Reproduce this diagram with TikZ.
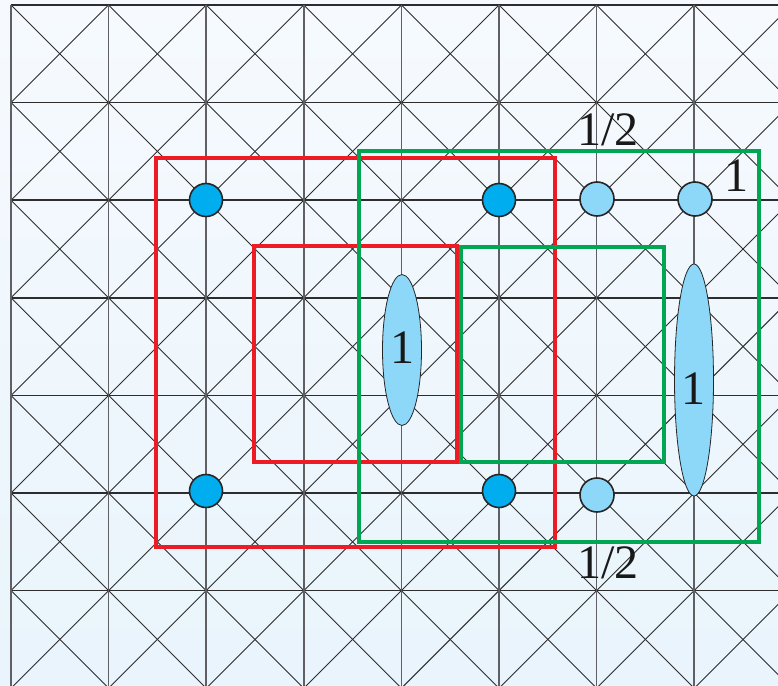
\documentclass[tikz,border=0pt]{standalone}
\usepackage{fontspec}
\setmainfont{Liberation Serif}
\definecolor{bgtop}{RGB}{246,250,254}
\definecolor{bgbot}{RGB}{233,244,252}
\definecolor{gridc}{RGB}{45,45,45}
\definecolor{vgrid}{RGB}{95,95,100}
\definecolor{redc}{RGB}{237,28,36}
\definecolor{greenc}{RGB}{0,166,81}
\definecolor{darkdot}{RGB}{0,174,239}
\definecolor{lightdot}{RGB}{141,216,248}
\tikzset{
  hline/.style={draw=gridc,line width=1.5pt},
  vline/.style={draw=vgrid,line width=1.7pt},
  diag/.style={draw=gridc,line width=0.9pt},
  redbox/.style={draw=redc,line width=4pt},
  greenbox/.style={draw=greenc,line width=4pt},
  dotdark/.style={circle,draw=black!85,line width=1.6pt,fill=darkdot,minimum size=33pt,inner sep=0pt},
  dotlight/.style={circle,draw=black!85,line width=1.6pt,fill=lightdot,minimum size=34pt,inner sep=0pt},
  lens/.style={ellipse,draw=black!85,line width=0.8pt,fill=lightdot,inner sep=0pt},
  lab/.style={font=\fontsize{48}{48}\selectfont,inner sep=0pt,text=black!90}
}
\usetikzlibrary{shapes.geometric}
\begin{document}
\begin{tikzpicture}[x=1pt,y=-1pt]
\useasboundingbox (0,0) rectangle (778,685);
\shade[top color=bgtop,bottom color=bgbot] (0,0) rectangle (778,685);
\begin{scope}
\clip (0,0) rectangle (778,685);
% diagonals
\foreach \i in {0,...,7}{
  \foreach \j in {0,...,6}{
    \pgfmathsetmacro{\xa}{11+97.6*\i}
    \pgfmathsetmacro{\xb}{11+97.6*(\i+1)}
    \pgfmathsetmacro{\ya}{5+97.6*\j}
    \pgfmathsetmacro{\yb}{5+97.6*(\j+1)}
    \draw[diag] (\xa,\ya) -- (\xb,\yb);
    \draw[diag] (\xa,\yb) -- (\xb,\ya);
  }
}
% horizontal lines
\foreach \j in {0,...,7}{
  \pgfmathsetmacro{\yy}{5+97.6*\j}
  \draw[hline] (11,\yy) -- (800,\yy);
}
% vertical lines
\foreach \i in {0,...,8}{
  \pgfmathsetmacro{\xx}{11+97.6*\i}
  \draw[vline] (\xx,5) -- (\xx,700);
}
\end{scope}
% lenses
\node[lens,minimum width=39pt,minimum height=151pt] (e1) at (402,350) {};
\node[lab] (e1t) at (402,348) {1};
\node[lens,minimum width=39pt,minimum height=232pt] (e2) at (694,380) {};
\node[lab] (e2t) at (693,389) {1};
% red boxes
\draw[redbox] (156,158) rectangle (555,547);
\draw[redbox] (254,246) rectangle (457,462);
% green boxes
\draw[greenbox] (359,151) rectangle (759,542);
\draw[greenbox] (461,247) rectangle (664,462);
% dots
\node[dotdark] (d1) at (206,200) {};
\node[dotdark] (d2) at (499,200) {};
\node[dotdark] (d3) at (206,491) {};
\node[dotdark] (d4) at (499,491) {};
\node[dotlight] (l1) at (597,199) {};
\node[dotlight] (l2) at (695,199) {};
\node[dotlight] (l3) at (597,495) {};
% labels
\node[lab] (t1) at (608,130) {1/2};
\node[lab] (t2) at (736,176) {1};
\node[lab] (t3) at (608,563) {1/2};
\end{tikzpicture}
\end{document}
